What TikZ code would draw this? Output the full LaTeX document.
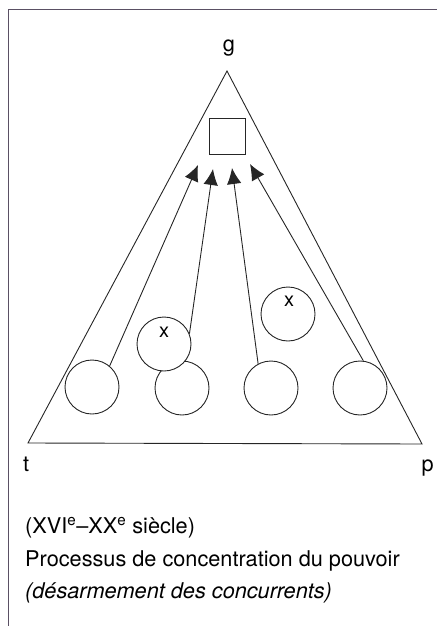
\documentclass[tikz,border=0pt]{standalone}
\usepackage{fontspec}
\setmainfont{TeX Gyre Heros}
\usetikzlibrary{arrows.meta}
\definecolor{framecol}{RGB}{90,80,100}
\tikzset{
  ink/.style={line width=0.9pt, draw=black!85},
  circ/.style={circle, ink, minimum size=54pt, inner sep=0pt},
  push/.style={ink, -{Latex[length=16pt,width=14.5pt]}},
  lbl/.style={font=\fontsize{21.7}{24}\selectfont, inner sep=0pt},
  xlbl/.style={font=\fontsize{20}{20}\selectfont, inner sep=0pt},
}
\begin{document}
\begin{tikzpicture}[x=1pt,y=-1pt]
\useasboundingbox (0,0) rectangle (438,626);
% frame
\draw[framecol, line width=1pt] (8.5,626) -- (8.5,9.5) -- (437,9.5);
% triangle
\coordinate (apex) at (227,71);
\coordinate (bl) at (28,443);
\coordinate (br) at (422,444);
\draw[ink, line join=miter] (apex) -- (bl) -- (br) -- cycle;
% labels of corners
\node[lbl, anchor=base] (g) at (229,52) {g};
\node[lbl, anchor=base west] (t) at (23,471) {t};
\node[lbl, anchor=base east] (p) at (434,471) {p};
% square
\node[ink, minimum size=36pt, inner sep=0pt] (sq) at (227,136.5) {};
% circles
\node[circ] (c1) at (92,387) {};
\node[circ] (c2) at (182,388) {};
\node[circ] (c3) at (271,388) {};
\node[circ] (c4) at (360,388) {};
\node[circ, fill=white] (x1) at (164,344) {};
\node[xlbl] (x1l) at (164,332) {x};
\node[circ] (x2) at (288,314) {};
\node[xlbl] (x2l) at (289,301) {x};
% arrow tips
\coordinate (a1) at (198,165);
\coordinate (a2) at (213,169);
\coordinate (a3) at (232,168);
\coordinate (a4) at (250,164);
\draw[push] (c1.50) -- (a1);
\draw[push] (x1.22) -- (a2);
\draw[push] (c3.118) -- (a3);
\draw[push] (c4.83) -- (a4);
% caption
\node[lbl, anchor=base west] (cap1) at (25,533) {(XVI\textsuperscript{e}–XX\textsuperscript{e} siècle)};
\node[lbl, anchor=base west] (cap2) at (25,566) {Processus de concentration du pouvoir};
\node[lbl, anchor=base west] (cap3) at (25,598) {\itshape (désarmement des concurrents)};
\end{tikzpicture}
\end{document}
